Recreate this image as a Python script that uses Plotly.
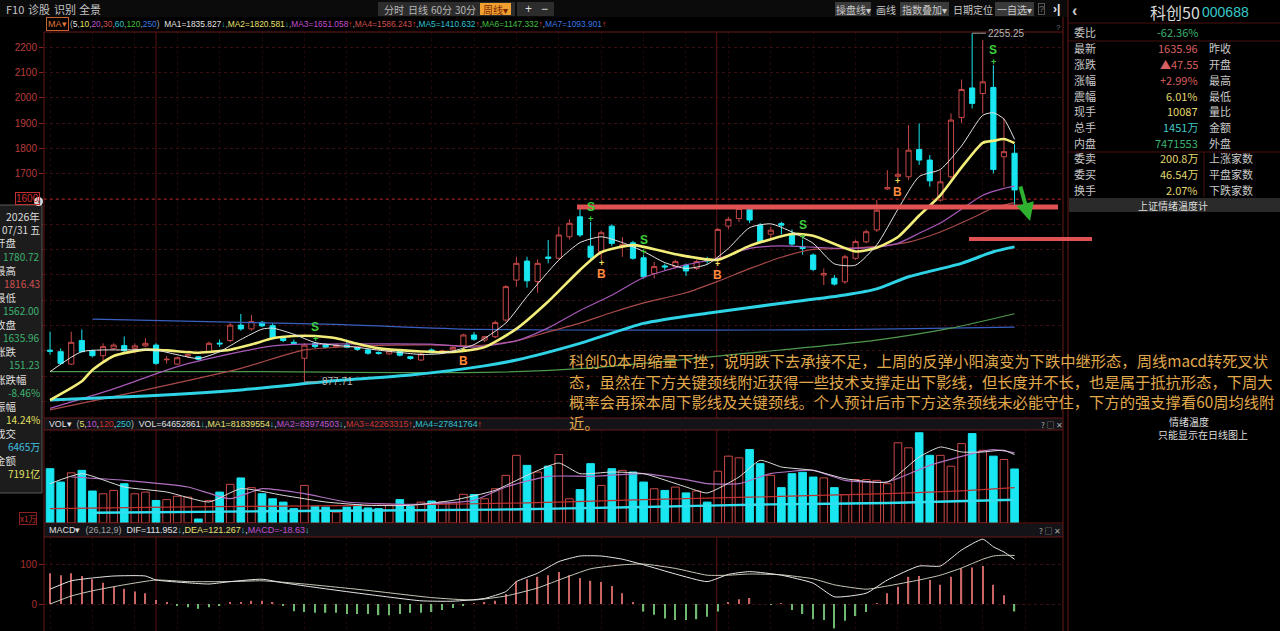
import plotly.graph_objects as go

W, H = 1280, 631

# ==========================
#  周K线数据（科创50 000688）
# ==========================
open_ = [1003, 997, 948, 1041, 1000, 981, 1010, 1021, 1010, 1020,
         1023, 965, 948, 980, 977, 997, 1031, 1041, 1102, 1087,
         1113, 1100, 1050, 1034, 971, 1030, 1026, 1017, 1023, 1014,
         1004, 994, 988, 1000, 977, 964, 1004, 993, 1004, 1020,
         1063, 1043, 1056, 1122, 1280, 1355, 1274, 1371, 1366, 1451,
         1530, 1414, 1392, 1493, 1412, 1427, 1368, 1306, 1336, 1333,
         1339, 1326, 1360, 1366, 1493, 1523, 1560, 1497, 1461, 1503,
         1464, 1410, 1379, 1300, 1287, 1273, 1366, 1431, 1478, 1640,
         1690, 1688, 1796, 1754, 1596, 1688, 1922, 2039, 2017, 2041,
         1767, 1780.72]
high_ = [1076, 1010, 1076, 1085, 1005, 1030, 1030, 1057, 1030, 1050,
         1030, 980, 978, 990, 980, 1037, 1045, 1110, 1146, 1142,
         1118, 1110, 1060, 1045, 1030, 1035, 1030, 1028, 1045, 1018,
         1008, 998, 1004, 1005, 980, 992, 1010, 1005, 1018, 1068,
         1075, 1060, 1120, 1260, 1372, 1372, 1362, 1438, 1491, 1520,
         1563, 1510, 1475, 1500, 1450, 1435, 1380, 1352, 1345, 1360,
         1345, 1360, 1372, 1485, 1530, 1575, 1575, 1505, 1490, 1510,
         1480, 1440, 1385, 1326, 1300, 1380, 1440, 1480, 1596, 1714,
         1800, 1892, 1899, 1774, 1714, 1938, 2072, 2255.25, 2228, 2129,
         1918, 1816.43]
low_ = [985, 945, 945, 995, 975, 951, 1005, 995, 990, 1015,
        945, 950, 945, 972, 962, 992, 1015, 1035, 1080, 1080,
        1095, 1045, 1035, 1025, 877.71, 1010, 1010, 1012, 1010, 1000,
        985, 985, 985, 978, 965, 960, 990, 988, 1000, 1015,
        1040, 1035, 1050, 1115, 1254, 1250, 1230, 1346, 1360, 1440,
        1450, 1360, 1360, 1415, 1372, 1360, 1285, 1287, 1318, 1325,
        1296, 1320, 1345, 1355, 1480, 1510, 1505, 1425, 1440, 1460,
        1415, 1380, 1315, 1260, 1258, 1265, 1360, 1425, 1470, 1636,
        1682, 1675, 1735, 1649, 1590, 1680, 1900, 1958, 1938, 1701,
        1649, 1562]
close_ = [999, 951, 1034, 997, 981, 1017, 1023, 1001, 1020, 1030,
          951, 967, 973, 985, 967, 1030, 1028, 1102, 1087, 1116,
          1099, 1050, 1041, 1030, 1023, 1017, 1014, 1023, 1014, 1006,
          991, 990, 1000, 983, 970, 988, 993, 1001, 1014, 1063,
          1046, 1056, 1112, 1254, 1346, 1277, 1346, 1366, 1458, 1504,
          1458, 1370, 1467, 1425, 1420, 1366, 1293, 1333, 1332, 1353,
          1316, 1353, 1356, 1480, 1520, 1563, 1517, 1431, 1477, 1497,
          1422, 1405, 1322, 1306, 1264, 1372, 1432, 1471, 1556, 1645,
          1698, 1793, 1754, 1672, 1668, 1912, 2033, 1978, 2063, 1717,
          1787.19, 1635.96]
wk = list(range(len(close_)))

# 均线（从图上读取的采样点）
ma5_idx = [0, 3, 7, 10, 12, 14, 16, 18, 20, 21, 23, 25, 27, 29, 31, 33, 35, 37, 40, 43,
           45, 48, 50, 52, 54, 56, 58, 60, 62, 64, 66, 68, 70, 72, 74, 76, 78, 80, 82, 84,
           86, 88, 89, 90, 91]
ma5_val = [918, 997, 1004, 1003, 985, 970, 997, 1045, 1086, 1090, 1066, 1033, 1022, 1014, 1003,
           994, 986, 990, 1025, 1110, 1215, 1359, 1428, 1451, 1428, 1393, 1349, 1326, 1342, 1405,
           1487, 1502, 1470, 1425, 1344, 1339, 1419, 1560, 1689, 1717, 1810, 1931, 1941, 1916, 1836]
ma10_idx = [0, 3, 4, 6, 9, 11, 14, 17, 19, 21, 23, 25, 27, 29, 31, 33, 35, 37, 39, 41,
            44, 47, 50, 52, 55, 59, 63, 66, 70, 72, 76, 78, 80, 82, 84, 86, 88, 89, 90, 91]
ma10_val = [806, 880, 925, 980, 1005, 1002, 993, 1005, 1025, 1050, 1059, 1059, 1050, 1028, 1010,
            1003, 998, 995, 1000, 1015, 1087, 1195, 1320, 1390, 1418, 1382, 1360, 1415, 1462, 1455,
            1393, 1408, 1450, 1535, 1615, 1725, 1822, 1830, 1837, 1821]
ma20_idx = [0, 6, 12, 18, 21, 24, 30, 36, 40, 44, 47, 50, 53, 56, 60, 63, 66, 69, 72, 75,
            78, 80, 82, 84, 86, 88, 90, 91]
ma20_val = [773, 850, 938, 997, 1020, 1027, 1028, 1027, 1015, 1040, 1091, 1160, 1220, 1290, 1340,
            1365, 1405, 1415, 1410, 1405, 1410, 1425, 1465, 1505, 1560, 1615, 1642, 1651]
ma30_idx = [0, 9, 18, 24, 30, 36, 40, 44, 47, 50, 53, 56, 60, 63, 66, 69, 72, 75, 78, 81,
            84, 87, 89, 91]
ma30_val = [767, 846, 931, 1004, 1020, 1024, 1020, 1040, 1075, 1110, 1152, 1190, 1230, 1275, 1325,
            1370, 1401, 1405, 1413, 1430, 1470, 1525, 1565, 1586]
ma60_idx = [0, 9, 18, 27, 34, 41, 44, 50, 56, 62, 69, 75, 78, 81, 86, 89, 91]
ma60_val = [806, 822, 846, 883, 905, 941, 964, 1030, 1109, 1149, 1188, 1221, 1245, 1293, 1346, 1392, 1411]
ma120_idx = [0, 20, 41, 50, 57, 66, 78, 85, 91]
ma120_val = [918, 918, 915, 930, 955, 992, 1043, 1090, 1147]
ma250_idx = [4, 18, 27, 40, 55, 70, 80, 91]
ma250_val = [1126, 1113, 1105, 1085, 1082, 1083, 1087, 1094]

# 成交量（万）
volume = [6500, 4900, 6000, 6300, 3830, 3500, 3900, 4700, 3500, 3700,
          2700, 2800, 3200, 3100, 480, 2700, 3700, 4630, 5390, 4230,
          3500, 2900, 2500, 1720, 4500, 2000, 1900, 1300, 1900, 2200,
          1800, 1720, 2100, 2800, 2000, 2500, 2630, 2500, 2400, 3430,
          3400, 2900, 4100, 5700, 8100, 6900, 6100, 6800, 8200, 2900,
          4000, 7100, 4500, 6500, 6300, 6100, 4900, 4100, 3900, 4300,
          3600, 3830, 2500, 6200, 8000, 7800, 8800, 7100, 5700, 4230,
          5900, 6070, 5500, 5400, 4230, 3400, 5200, 5200, 5100, 4700,
          9600, 9000, 10800, 8100, 8100, 6800, 9500, 10700, 8700, 8000,
          7600, 6465]
vma1_idx = [0, 3, 7, 11, 15, 18, 22, 26, 30, 34, 38, 42, 45, 48, 50, 53, 56, 60, 62, 65,
            67, 69, 72, 75, 79, 82, 84, 86, 88, 90, 91]
vma1_val = [4708, 5905, 4310, 3710, 2514, 4110, 3311, 2514, 2115, 2115, 2713, 3910, 5705, 7182,
            5900, 6104, 5905, 4310, 3591, 5505, 7502, 6703, 6304, 5306, 4907, 7901, 9098, 8500,
            8500, 8700, 8184]
vma2_idx = [2, 7, 13, 17, 20, 24, 28, 34, 40, 43, 47, 51, 56, 60, 62, 65, 68, 72, 75, 79,
            83, 87, 89, 91]
vma2_val = [5505, 5106, 4310, 2913, 4110, 3511, 2514, 2234, 2713, 4310, 5585, 5585, 5905, 5186,
            4708, 4708, 5905, 6304, 5106, 4907, 6903, 8300, 8779, 8397]
vma3_idx = [0, 15, 30, 45, 56, 66, 79, 86, 91]
vma3_val = [1716, 1950, 2115, 2400, 2793, 3100, 3511, 3850, 4226]
vma4_idx = [4, 20, 42, 56, 68, 79, 91]
vma4_val = [1233, 1400, 1596, 1915, 2234, 2394, 2784]

# MACD
macd_hist = [77, 72, 77, 70, 62, 53, 43, 38, 31, 27,
             10, 4, -5, -8, -12, -8, -5, 4, 5, 8,
             8, 3, -5, -18, -20, -22, -22, -22, -25, -25,
             -25, -28, -28, -25, -22, -22, -20, -15, -10, -3,
             2, 3, 8, 25, 56, 62, 68, 72, 80, 72,
             65, 58, 55, 45, 27, 5, -19, -27, -36, -40,
             -40, -38, -32, -19, 3, 12, 15, 0, -2, 2,
             -15, -25, -38, -40, -61, -42, -30, -20, 2, 27,
             43, 68, 70, 60, 48, 68, 89, 91, 95, 48,
             22, -18.63]
dif_idx = [0, 2, 4, 6, 9, 10, 13, 15, 17, 20, 22, 26, 30, 35, 38, 41, 43, 44, 46, 48,
           50, 52, 54, 56, 59, 62, 64, 66, 69, 72, 74, 77, 79, 82, 84, 86, 88, 89, 90, 91]
dif_val = [37, 58, 65, 70, 70, 60, 53, 50, 56, 62, 53, 38, 24, 8, 7, 14, 31, 56, 77, 106,
           120, 120, 112, 98, 75, 56, 74, 81, 72, 52, 18, 27, 60, 95, 95, 135, 162, 143, 130, 111.952]
dea_idx = [0, 2, 4, 7, 10, 13, 17, 20, 24, 30, 36, 40, 43, 46, 48, 51, 54, 56, 59, 62,
           64, 66, 69, 72, 74, 77, 79, 82, 84, 86, 88, 89, 90, 91]
dea_val = [0, 20, 33, 48, 60, 56, 56, 58, 50, 34, 16, 10, 20, 40, 60, 88, 98, 100, 89, 72,
           72, 75, 73, 63, 48, 37, 45, 60, 72, 90, 112, 120, 122, 121.267]

# B / S 信号
sell_idx = [25, 51, 56, 71, 89]
buy_idx = [39, 52, 63, 80]

ma_names = ["MA1", "MA2", "MA3", "MA4", "MA5", "MA6", "MA7"]
ma_last = ["1835.827", "1820.581", "1651.058", "1586.243", "1410.632", "1147.332", "1093.901"]

# 右侧行情
quote_rows = [
    ("委比", "-62.36%", "#3cb371", ""),
    ("最新", "1635.96", "#d86060", "昨收"),
    ("涨跌", "▲47.55", "#d86060", "开盘"),
    ("涨幅", "+2.99%", "#d86060", "最高"),
    ("震幅", "6.01%", "#e0d870", "最低"),
    ("现手", "10087", "#e0d870", "量比"),
    ("总手", "1451万", "#40c8c8", "金额"),
    ("内盘", "7471553", "#3cb371", "外盘"),
    ("委卖", "200.8万", "#e0d870", "上涨家数"),
    ("委买", "46.54万", "#e0d870", "平盘家数"),
    ("换手", "2.07%", "#e0d870", "下跌家数"),
]
info_rows = [
    ("开盘", "1780.72", "#3cb371"),
    ("最高", "1816.43", "#d05050"),
    ("最低", "1562.00", "#3cb371"),
    ("收盘", "1635.96", "#3cb371"),
    ("涨跌", "151.23", "#3cb371"),
    ("涨跌幅", "-8.46%", "#3cb371"),
    ("振幅", "14.24%", "#e0e060"),
    ("成交", "6465万", "#40c0e0"),
    ("金额", "7191亿", "#e0e060"),
]
note_lines = [
    "科创50本周缩量下挫，说明跌下去承接不足，上周的反弹小阳演变为下跌中继形态，周线macd转死叉状",
    "态，虽然在下方关键颈线附近获得一些技术支撑走出下影线，但长度并不长，也是属于抵抗形态，下周大",
    "概率会再探本周下影线及关键颈线。个人预计后市下方这条颈线未必能守住，下方的强支撑看60周均线附",
    "近。",
]

# ==========================
#  颜色
# ==========================
UP = "#c84848"
DN = "#18e6f0"
GRID = "#3a0e0e"
BORDER = "#6b1818"
CJK = "Noto Sans CJK SC"
LAT = "Liberation Sans, Noto Sans CJK SC"


def px(x):
    return x / W


def py(y):
    return 1 - y / H


fig = go.Figure()

# K线
fig.add_trace(go.Candlestick(
    x=wk, open=open_, high=high_, low=low_, close=close_,
    increasing=dict(line=dict(color=UP, width=1), fillcolor="#000000"),
    decreasing=dict(line=dict(color=DN, width=1), fillcolor=DN),
    whiskerwidth=0, xaxis="x", yaxis="y", hoverinfo="skip", showlegend=False
))

ma_style = [
    (ma250_idx, ma250_val, "#3a5fc0", 1.2),
    (ma120_idx, ma120_val, "#4f9a4f", 1.2),
    (ma30_idx, ma30_val, "#a84a4a", 1.2),
    (ma20_idx, ma20_val, "#a858b8", 1.2),
    (ma60_idx, ma60_val, "#2fd3e6", 3),
    (ma10_idx, ma10_val, "#f3ee7a", 2.6),
    (ma5_idx, ma5_val, "#e4e4e4", 1),
]
for xs, ys, col, wd in ma_style:
    fig.add_trace(go.Scatter(
        x=xs, y=ys, mode="lines", line=dict(color=col, width=wd, shape="spline", smoothing=0.6),
        xaxis="x", yaxis="y", hoverinfo="skip", showlegend=False
    ))

# 成交量
is_up = [c >= o for o, c in zip(open_, close_)]
fig.add_trace(go.Bar(
    x=wk, y=volume, width=0.72,
    marker=dict(color=["#000000" if u else DN for u in is_up],
                line=dict(color=[UP if u else DN for u in is_up], width=1)),
    xaxis="x2", yaxis="y2", hoverinfo="skip", showlegend=False
))
for xs, ys, col, wd in [(vma3_idx, vma3_val, "#c03030", 1.2),
                        (vma4_idx, vma4_val, "#30e0f0", 2.4),
                        (vma2_idx, vma2_val, "#b070c0", 1.2),
                        (vma1_idx, vma1_val, "#dcdcdc", 1)]:
    fig.add_trace(go.Scatter(
        x=xs, y=ys, mode="lines", line=dict(color=col, width=wd, shape="spline", smoothing=0.5),
        xaxis="x2", yaxis="y2", hoverinfo="skip", showlegend=False
    ))

# MACD
fig.add_trace(go.Bar(
    x=wk, y=macd_hist, width=0.12,
    marker=dict(color=["#c86464" if v > 0 else "#70b870" for v in macd_hist], line=dict(width=0)),
    xaxis="x3", yaxis="y3", hoverinfo="skip", showlegend=False
))
fig.add_trace(go.Scatter(x=dea_idx, y=dea_val, mode="lines",
                         line=dict(color="#c8c8b8", width=1, shape="spline", smoothing=0.5),
                         xaxis="x3", yaxis="y3", hoverinfo="skip", showlegend=False))
fig.add_trace(go.Scatter(x=dif_idx, y=dif_val, mode="lines",
                         line=dict(color="#e8e8e8", width=1, shape="spline", smoothing=0.5),
                         xaxis="x3", yaxis="y3", hoverinfo="skip", showlegend=False))

# ==========================
#  文本与图形
# ==========================
ann = []
shapes = []


def text(x, y, s, color, size=11, anchor="left", family=LAT, bg=None, border=None, pad=1):
    d = dict(x=px(x), y=py(y), xref="paper", yref="paper", text=s, showarrow=False,
             xanchor=anchor, yanchor="middle", font=dict(color=color, size=size, family=family),
             borderpad=pad)
    if bg:
        d["bgcolor"] = bg
    if border:
        d["bordercolor"] = border
        d["borderwidth"] = 1
    ann.append(d)


def rect(x0, y0, x1, y1, fill, line=None, layer="above"):
    shapes.append(dict(type="rect", xref="paper", yref="paper", x0=px(x0), x1=px(x1),
                       y0=py(y1), y1=py(y0), fillcolor=fill,
                       line=dict(color=line or fill, width=1 if line else 0), layer=layer))


def hline(x0, x1, y, color, width=1, dash="solid"):
    shapes.append(dict(type="line", xref="paper", yref="paper", x0=px(x0), x1=px(x1),
                       y0=py(y), y1=py(y), line=dict(color=color, width=width, dash=dash), layer="above"))


def vline(x, y0, y1, color, width=1):
    shapes.append(dict(type="line", xref="paper", yref="paper", x0=px(x), x1=px(x),
                       y0=py(y0), y1=py(y1), line=dict(color=color, width=width), layer="above"))


# 顶部工具栏
rect(0, 0, 1068, 17, "#0b0b0b", layer="below")
for s, x in [("F10", 4), ("诊股", 26), ("识别", 52), ("全景", 77)]:
    text(x, 9, s, "#c4c4c4", 11, family=CJK)
rect(378, 2, 515, 16, "#2c2c2c")
for s, x in [("分时", 394), ("日线", 418), ("60分", 441), ("30分", 465)]:
    text(x, 9, s, "#b8b8b8", 10, "center", CJK)
rect(480, 3, 511, 15, "#f0a030")
text(495, 9, "周线▾", "#7a2400", 10, "center", CJK)
rect(517, 2, 554, 16, "#2c2c2c")
text(528, 9, "+", "#dddddd", 12, "center")
text(544, 9, "−", "#dddddd", 12, "center")
rect(835, 2, 871, 16, "#3a3a3a")
text(853, 9, "操盘线▾", "#c8c8c8", 10, "center", CJK)
text(886, 9, "画线", "#c8c8c8", 10, "center", CJK)
rect(900, 2, 949, 16, "#3a3a3a")
text(924, 9, "指数叠加▾", "#c8c8c8", 10, "center", CJK)
text(973, 9, "日期定位", "#c8c8c8", 10, "center", CJK)
rect(995, 2, 1034, 16, "#3a3a3a")
text(1014, 9, "一自选▾", "#c8c8c8", 10, "center", CJK)
text(1041, 9, "?", "#777777", 9, "center", border="#555555", pad=0)
text(1056, 9, "<b>›|</b>", "#e8e8e8", 12, "center")

# 均线图例
text(46, 24, "MA▾", "#e07838", 9, border="#c86030", pad=1)
ma_cols = ["#e4e4e4", "#e8e070", "#c050d0", "#d05050", "#30c0d0", "#40c040", "#3a78e0"]
ma_arr = ["↓", "↓", "↑", "↑", "↑", "↑", "↑"]
periods = ["5", "10", "20", "30", "60", "120", "250"]
leg = '<span style="color:#b0b0b0">(</span>' + '<span style="color:#b0b0b0">,</span>'.join(
    f'<span style="color:{c}">{p}</span>' for p, c in zip(periods, ma_cols)) + '<span style="color:#b0b0b0">)</span>  '
leg += '<span style="color:#b0b0b0">,</span>'.join(
    f'<span style="color:{c}">{n}={v}</span><span style="color:{"#30c0c0" if a == "↓" else "#e04040"}">{a}</span>'
    for n, v, c, a in zip(ma_names, ma_last, ma_cols, ma_arr))
text(68, 24, leg, "#e4e4e4", 8.4)
text(1058, 28, "?", "#777777", 8, "center")

# 成交量标题栏
rect(44, 418, 1063, 430, "#141418")
vol_leg = ('VOL▾  <span style="color:#b0b0b0">(</span><span style="color:#e8e070">5</span>,'
           '<span style="color:#c050d0">10</span>,<span style="color:#d03030">120</span>,'
           '<span style="color:#30c0d0">250</span><span style="color:#b0b0b0">)</span>  '
           'VOL=64652861<span style="color:#30c0c0">↓</span>,'
           '<span style="color:#e8e070">MA1=81839554</span><span style="color:#30c0c0">↓</span>,'
           '<span style="color:#c050d0">MA2=83974503</span><span style="color:#30c0c0">↓</span>,'
           '<span style="color:#d03030">MA3=42263315</span><span style="color:#e04040">↑</span>,'
           '<span style="color:#30c0d0">MA4=27841764</span><span style="color:#e04040">↑</span>')
text(47, 424, vol_leg, "#e0e0e0", 8.8)
text(1052, 424, "? □ ✕", "#aaaaaa", 8, "center", CJK)

# MACD 标题栏
rect(44, 524, 1063, 537, "#141418")
macd_leg = ('MACD▾  <span style="color:#a0a0a0">(26,12,9)</span>  '
            'DIF=111.952<span style="color:#30c0c0">↓</span>,'
            '<span style="color:#e8e070">DEA=121.267</span><span style="color:#30c0c0">↓</span>,'
            '<span style="color:#c050d0">MACD=-18.63</span><span style="color:#30c0c0">↓</span>')
text(47, 530, macd_leg, "#e0e0e0", 9)
text(1050, 530, "? □ ✕", "#aaaaaa", 8, "center", CJK)

# 面板边框
for y in [32, 418, 430, 523, 537]:
    hline(44, 1063, y, BORDER)
vline(44, 32, 631, BORDER)
vline(1063, 17, 631, BORDER)
vline(1068, 0, 631, BORDER)

# 年份分隔线
for xv in [10, 62.9]:
    shapes.append(dict(type="line", xref="x", yref="paper", x0=xv, x1=xv, y0=0, y1=py(32),
                       line=dict(color="#5a1414", width=1), layer="below"))

# 十字光标水平线
shapes.append(dict(type="line", xref="x", yref="y", x0=-0.6, x1=95.6, y0=1600, y1=1600,
                   line=dict(color="#a82020", width=1, dash="dot"), layer="above"))

# 颈线（红色粗线）与绿色箭头
hline(577, 1058, 207, "#e05252", 5)
hline(969, 1092, 239, "#e05252", 4)
ann.append(dict(x=px(1030), y=py(221), xref="paper", yref="paper", ax=-10, ay=-36,
                axref="pixel", ayref="pixel", showarrow=True, arrowhead=2, arrowsize=0.9,
                arrowwidth=4, arrowcolor="#2fb02f", text=""))

# 最高/最低标注
hi_i = high_.index(max(high_))
lo_i = low_.index(min(low_))
shapes.append(dict(type="line", xref="x", yref="y", x0=hi_i, x1=hi_i + 1.3, y0=max(high_), y1=max(high_),
                   line=dict(color="#9a9a9a", width=1)))
ann.append(dict(x=hi_i + 1.35, y=max(high_), xref="x", yref="y", text=f"{max(high_):.2f}",
                showarrow=False, xanchor="left", yanchor="middle",
                font=dict(color="#b8b8b8", size=10, family=LAT)))
shapes.append(dict(type="line", xref="x", yref="y", x0=lo_i, x1=lo_i + 1.4, y0=min(low_), y1=min(low_),
                   line=dict(color="#9a9a9a", width=1)))
ann.append(dict(x=lo_i + 1.45, y=min(low_), xref="x", yref="y", text=f"{min(low_):.2f}",
                showarrow=False, xanchor="left", yanchor="middle",
                font=dict(color="#b8b8b8", size=10, family=LAT)))

# B/S 信号
for i in sell_idx:
    ann.append(dict(x=i, y=high_[i], xref="x", yref="y", text="<b>S</b>", showarrow=False,
                    yanchor="middle", yshift=15, font=dict(color="#3ccf3c", size=12, family=LAT)))
    ann.append(dict(x=i, y=high_[i], xref="x", yref="y", text="<b>+</b>", showarrow=False,
                    yanchor="middle", yshift=3, font=dict(color="#3ccf3c", size=9, family=LAT)))
for i in buy_idx:
    ann.append(dict(x=i, y=low_[i], xref="x", yref="y", text="<b>B</b>", showarrow=False,
                    yanchor="middle", yshift=-14, font=dict(color="#ff8a3a", size=12, family=LAT)))
    ann.append(dict(x=i, y=low_[i], xref="x", yref="y", text="<b>+</b>", showarrow=False,
                    yanchor="middle", yshift=-3, font=dict(color="#f0e060", size=9, family=LAT)))

# 左侧十字光标信息框
rect(-2, 205, 42, 493, "#1c1c1c", "#5a5a5a")
text(40, 199, "1600", "#d03030", 10, "right", border="#c03030", pad=0)
text(41, 216, "2026年", "#dddddd", 10.5, "right", CJK, pad=0)
text(41, 229, "07/31 五", "#dddddd", 10, "right", CJK, pad=0)
for k, (lab, val, col) in enumerate(info_rows):
    y0 = 243 + k * 27.2
    text(-6, y0, lab, "#dddddd", 10.5, "left", CJK, pad=0)
    text(41, y0 + 13, val, col, 10, "right", CJK, pad=0)
shapes.append(dict(type="circle", xref="paper", yref="paper", x0=px(34), x1=px(43),
                   y0=py(206), y1=py(197), fillcolor="#d8d8d8", line=dict(width=0), layer="above"))
ann.append(dict(x=px(38.5), y=py(201.5), xref="paper", yref="paper", text="×", showarrow=False,
                xanchor="center", yanchor="middle", borderpad=0,
                font=dict(color="#333333", size=7, family=LAT)))
text(28, 518, "x1万", "#c03030", 8, "center", CJK, border="#8a2020", pad=0)

# 评论文字
for k, s in enumerate(note_lines):
    text(567, 360 + k * 20.5, s, "#e0a94c", 15.3, "left", CJK)

# 右侧行情面板
text(1074, 11, "<b>‹</b>", "#cccccc", 16, "center")
text(1175, 12, "科创50", "#d8d8d8", 16, "center", CJK)
text(1225, 12, "000688", "#38c8c8", 14, "center")
hline(1068, 1280, 23, "#4a1212")
hline(1068, 1280, 41, "#4a1212")
hline(1068, 1280, 152, "#4a1212")
vline(1204, 152, 197, "#4a1212")
ys = [32, 48, 64, 80, 96, 111, 127, 143, 158, 174, 190]
for (lab, val, col, rlab), y in zip(quote_rows, ys):
    text(1072, y, lab, "#c8c8c8", 11, "left", CJK)
    text(1200, y, val, col, 11, "right", CJK)
    if rlab:
        text(1207, y, rlab, "#c8c8c8", 11, "left", CJK)
rect(1069, 198, 1280, 212, "#2a2a2a")
text(1173, 205, "上证情绪温度计", "#dddddd", 10, "center", CJK)
text(1189, 421, "情绪温度", "#dddddd", 10, "center", CJK)
text(1203, 435, "只能显示在日线图上", "#dddddd", 10, "center", CJK)

# ==========================
#  布局
# ==========================
xr = [-0.57, 95.57]
xdom = [px(44), px(1063)]
xcommon = dict(domain=xdom, range=xr, showticklabels=False, ticks="", zeroline=False,
               showgrid=True, gridcolor="#200808", griddash="dot", tickmode="linear", tick0=0, dtick=4,
               fixedrange=True)

price_ticks = list(range(800, 2300, 100))
fig.update_layout(
    width=W, height=H, autosize=False,
    margin=dict(l=0, r=0, t=0, b=0),
    paper_bgcolor="#000000", plot_bgcolor="#000000",
    showlegend=False, hovermode=False, barmode="overlay",
    font=dict(family=LAT, color="#cccccc"),
    xaxis=dict(anchor="y", rangeslider=dict(visible=False), **xcommon),
    xaxis2=dict(anchor="y2", matches="x", **xcommon),
    xaxis3=dict(anchor="y3", matches="x", **xcommon),
    yaxis=dict(domain=[py(418), py(32)], range=[735, 2260], anchor="x",
               tickvals=price_ticks,
               ticktext=[str(v) if v >= 1700 else "" for v in price_ticks],
               tickfont=dict(color="#b83c3c", size=10), ticks="outside", ticklen=4,
               tickcolor="#8a2020", showgrid=True, gridcolor=GRID, griddash="dot",
               zeroline=False, showline=False),
    yaxis2=dict(domain=[py(523), py(430)], range=[0, 11130], anchor="x2",
                showticklabels=False, ticks="", showgrid=False, zeroline=False),
    yaxis3=dict(domain=[0, py(537)], range=[-67.5, 167.5], anchor="x3",
                tickvals=[0, 100], tickfont=dict(color="#a83030", size=10), ticks="outside",
                ticklen=4, tickcolor="#8a2020", showgrid=True, gridcolor=GRID, griddash="dot",
                zeroline=False),
    annotations=ann,
    shapes=shapes,
)

fig.write_html("out.html", config={"displayModeBar": False},
               post_script="document.body.style.margin='0';")
